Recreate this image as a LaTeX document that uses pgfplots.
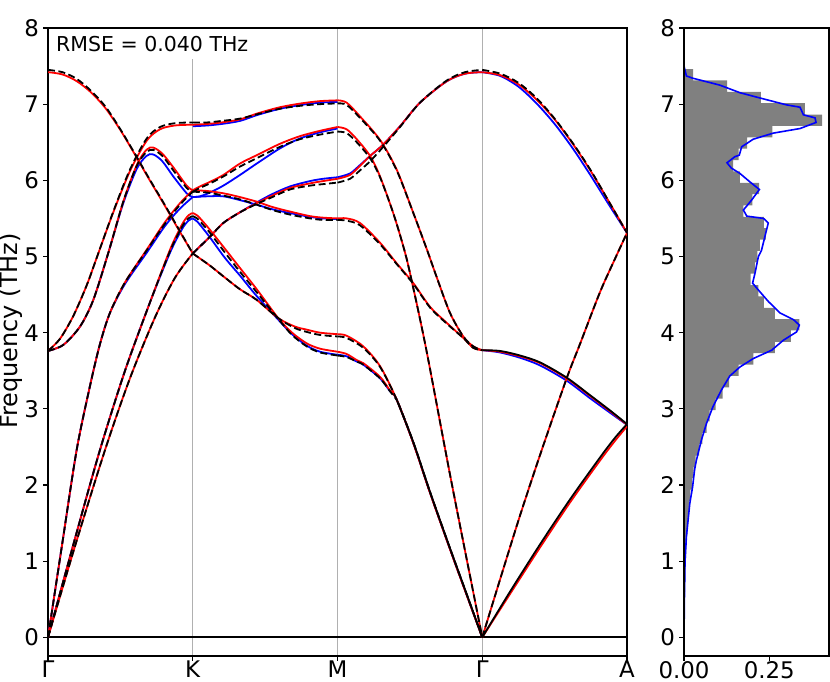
\documentclass[border=0pt]{standalone}
\usepackage{fontspec}
\setmainfont{DejaVu Sans}
\usepackage{pgfplots}
\pgfplotsset{compat=1.18}
\definecolor{histgray}{HTML}{808080}
\definecolor{gridgray}{HTML}{B0B0B0}
\pgfplotsset{
  rl/.style={red, line width=1.8bp, smooth, tension=0.5},
  bl/.style={blue, line width=1.8bp, smooth, tension=0.5},
  kl/.style={black, line width=1.8bp, dash pattern=on 7bp off 3.5bp, smooth, tension=0.5},
  ks/.style={black, line width=1.8bp, smooth, tension=0.5},
  common/.style={
    scale only axis, ymin=-0.245, ymax=8, ytick={0,1,...,8},
    axis line style={line width=1.1bp, black},
    tick style={line width=1.1bp, black},
    tick align=outside, major tick length=4.9bp, tick pos=left,
    tick label style={font=\fontsize{22.9bp}{27bp}\selectfont, inner sep=0pt},
    /pgf/number format/assume math mode=true,
    xticklabel shift=0.2bp, yticklabel shift=4bp,
  }
}
\begin{document}
\begin{tikzpicture}[x=1bp,y=1bp]
\path[use as bounding box] (0,0) rectangle (830,682);
\node[rotate=90, font=\fontsize{24bp}{28bp}\selectfont] at (11bp,351bp) {Frequency (THz)};
\begin{axis}[common, at={(48bp,26bp)}, anchor=south west, width=579bp, height=628bp,
  xmin=0, xmax=4, xtick={0,1,2,3,4}, xticklabels={Γ,K,M,Γ,A},
  xmajorgrids, grid style={draw=gridgray, line width=1.1bp}]
\addplot[black, line width=1.8bp] coordinates {(0,0) (4,0)};
% ---------- blue ----------
\addplot[bl] coordinates {(0,3.76)(0.106,3.84)(0.221,4.08)(0.313,4.43)(0.417,5.05)(0.520,5.70)(0.613,6.15)(0.680,6.32)(0.727,6.34)(0.790,6.25)(0.866,6.05)(0.958,5.83)(1,5.78)};
\addplot[bl] coordinates {(0,0)(0.1,1.25)(0.198,2.46)(0.290,3.30)(0.359,3.85)(0.428,4.26)(0.532,4.64)(0.682,5.05)(0.808,5.40)(0.912,5.63)(1,5.78)};
\addplot[bl] coordinates {(0,0)(0.187,1.30)(0.359,2.46)(0.532,3.50)(0.705,4.40)(0.843,5.05)(0.926,5.36)(0.97,5.47)(1,5.50)};
\addplot[bl] coordinates {(1,6.71)(1.1,6.72)(1.2,6.74)(1.326,6.78)(1.45,6.86)(1.603,6.94)(1.75,6.99)(1.88,7.02)(2,7.03)};
\addplot[bl] coordinates {(1,5.78)(1.05,5.79)(1.119,5.84)(1.211,5.93)(1.326,6.07)(1.442,6.22)(1.603,6.42)(1.741,6.55)(1.879,6.63)(2,6.68)};
\addplot[bl] coordinates {(1,5.78)(1.1,5.79)(1.211,5.79)(1.326,5.74)(1.442,5.68)(1.55,5.62)(1.672,5.57)(1.810,5.52)(1.9,5.50)(2,5.49)};
\addplot[bl] coordinates {(1,5.04)(1.119,5.26)(1.211,5.44)(1.326,5.58)(1.442,5.71)(1.55,5.82)(1.672,5.92)(1.81,5.99)(1.9,6.02)(2,6.04)};
\addplot[bl] coordinates {(1,5.50)(1.03,5.46)(1.07,5.37)(1.119,5.25)(1.223,4.98)(1.326,4.75)(1.442,4.48)(1.591,4.17)(1.686,3.98)(1.787,3.83)(1.879,3.75)(2,3.71)};
\addplot[bl] coordinates {(2,6.04)(2.086,6.09)(2.155,6.20)(2.225,6.32)(2.316,6.47)(2.432,6.71)(2.570,7.02)(2.754,7.30)(2.881,7.40)(3,7.42)};
\addplot[bl] coordinates {(2,3.71)(2.063,3.69)(2.133,3.62)(2.178,3.58)(2.294,3.40)(2.363,3.23)(2.409,3.12)(2.524,2.55)(2.639,1.90)(2.777,1.16)(2.888,0.58)(3,0)};
\addplot[bl] coordinates {(3,7.42)(3.125,7.37)(3.25,7.23)(3.375,7.01)(3.5,6.74)(3.625,6.42)(3.75,6.06)(3.875,5.68)(4,5.31)};
\addplot[bl] coordinates {(3,3.77)(3.123,3.74)(3.261,3.67)(3.399,3.57)(3.583,3.37)(3.744,3.14)(3.882,2.95)(4,2.79)};
% ---------- red ----------
% Gamma-K
\addplot[rl] coordinates {(0,7.42)(0.1,7.39)(0.2,7.30)(0.3,7.15)(0.4,6.94)(0.5,6.66)(0.6,6.34)(0.7,6.01)(0.8,5.69)(0.9,5.36)(1,5.04)};
\addplot[rl] coordinates {(0,3.76)(0.083,3.92)(0.175,4.22)(0.267,4.62)(0.336,4.98)(0.451,5.58)(0.566,6.12)(0.682,6.52)(0.774,6.67)(0.877,6.72)(1,6.73)};
\addplot[rl] coordinates {(0,3.76)(0.106,3.84)(0.221,4.08)(0.313,4.43)(0.417,5.05)(0.520,5.72)(0.613,6.20)(0.680,6.40)(0.727,6.43)(0.790,6.35)(0.866,6.17)(0.958,5.93)(1,5.87)};
\addplot[rl] coordinates {(0,0)(0.1,1.25)(0.198,2.46)(0.290,3.30)(0.359,3.85)(0.428,4.26)(0.532,4.66)(0.682,5.09)(0.808,5.45)(0.912,5.70)(1,5.87)};
\addplot[rl] coordinates {(0,0)(0.187,1.30)(0.359,2.46)(0.532,3.50)(0.705,4.40)(0.843,5.09)(0.926,5.42)(0.97,5.54)(1,5.57)};
\addplot[rl] coordinates {(0,0)(0.187,1.20)(0.394,2.46)(0.566,3.40)(0.739,4.20)(0.877,4.72)(1,5.04)};
% K-M
\addplot[rl] coordinates {(1,6.73)(1.1,6.74)(1.2,6.76)(1.326,6.80)(1.45,6.88)(1.603,6.96)(1.75,7.01)(1.88,7.04)(2,7.05)};
\addplot[rl] coordinates {(1,5.87)(1.05,5.92)(1.119,5.98)(1.211,6.07)(1.326,6.22)(1.442,6.33)(1.603,6.48)(1.741,6.58)(1.879,6.65)(2,6.70)};
\addplot[rl] coordinates {(1,5.87)(1.1,5.86)(1.211,5.83)(1.326,5.78)(1.442,5.72)(1.55,5.65)(1.672,5.59)(1.810,5.53)(1.9,5.51)(2,5.50)};
\addplot[rl] coordinates {(1,5.04)(1.119,5.26)(1.211,5.44)(1.326,5.58)(1.442,5.70)(1.55,5.80)(1.672,5.90)(1.81,5.96)(1.9,5.99)(2,6.02)};
\addplot[rl] coordinates {(1,5.04)(1.119,4.88)(1.211,4.74)(1.326,4.57)(1.442,4.43)(1.591,4.19)(1.706,4.08)(1.787,4.04)(1.879,4.00)(2,3.98)};
\addplot[rl] coordinates {(1,5.57)(1.03,5.54)(1.07,5.46)(1.119,5.35)(1.223,5.10)(1.326,4.85)(1.442,4.57)(1.591,4.19)(1.686,4.00)(1.787,3.86)(1.879,3.79)(2,3.75)};
% M-Gamma
\addplot[rl] coordinates {(2,7.05)(2.063,7.02)(2.155,6.84)(2.294,6.53)(2.409,6.14)(2.524,5.57)(2.616,5.10)(2.685,4.73)(2.777,4.26)(2.869,3.95)(2.938,3.82)(3,3.77)};
\addplot[rl] coordinates {(2,6.70)(2.063,6.67)(2.133,6.54)(2.225,6.32)(2.294,6.05)(2.385,5.57)(2.455,5.13)(2.501,4.78)(2.611,3.80)(2.784,2.07)(3,0)};
\addplot[rl] coordinates {(2,6.02)(2.086,6.07)(2.155,6.19)(2.225,6.32)(2.316,6.47)(2.432,6.71)(2.570,7.02)(2.754,7.30)(2.881,7.40)(3,7.42)};
\addplot[rl] coordinates {(2,5.50)(2.063,5.50)(2.155,5.44)(2.294,5.18)(2.409,4.91)(2.524,4.65)(2.639,4.34)(2.754,4.13)(2.869,3.93)(2.938,3.80)(3,3.77)};
\addplot[rl] coordinates {(2,3.98)(2.063,3.96)(2.178,3.82)(2.294,3.56)(2.409,3.12)(2.524,2.55)(2.639,1.90)(2.777,1.16)(2.888,0.58)(3,0)};
\addplot[rl] coordinates {(2,3.75)(2.063,3.72)(2.133,3.64)(2.178,3.60)(2.294,3.42)(2.363,3.24)(2.409,3.12)(2.524,2.55)(2.639,1.90)(2.777,1.16)(2.888,0.58)(3,0)};
% Gamma-A
\addplot[rl] coordinates {(3,0)(3.192,0.57)(3.399,1.18)(3.606,1.77)(3.813,2.32)(3.917,2.58)(4,2.77)};
\addplot[rl] coordinates {(3,0)(3.123,0.76)(3.261,1.60)(3.411,2.46)(3.583,3.40)(3.675,3.85)(3.813,4.53)(3.917,4.97)(4,5.31)};
\addplot[rl] coordinates {(3,3.77)(3.123,3.75)(3.261,3.69)(3.399,3.60)(3.583,3.40)(3.744,3.17)(3.882,2.97)(4,2.79)};
\addplot[rl] coordinates {(3,7.42)(3.125,7.38)(3.25,7.26)(3.375,7.06)(3.5,6.80)(3.625,6.48)(3.75,6.12)(3.875,5.72)(4,5.31)};
% ---------- black dashed ----------
\addplot[kl] coordinates {(0,7.45)(0.1,7.42)(0.2,7.33)(0.3,7.17)(0.4,6.96)(0.5,6.67)(0.6,6.35)(0.7,6.02)(0.8,5.70)(0.9,5.37)(1,5.04)};
\addplot[kl] coordinates {(0,3.76)(0.083,3.92)(0.175,4.22)(0.267,4.62)(0.336,4.98)(0.451,5.59)(0.566,6.14)(0.682,6.55)(0.774,6.70)(0.877,6.75)(1,6.76)};
\addplot[kl] coordinates {(0,3.76)(0.106,3.84)(0.221,4.08)(0.313,4.43)(0.417,5.05)(0.520,5.72)(0.613,6.19)(0.680,6.37)(0.727,6.40)(0.790,6.32)(0.866,6.13)(0.958,5.90)(1,5.85)};
\addplot[kl] coordinates {(0,0)(0.1,1.25)(0.198,2.46)(0.290,3.30)(0.359,3.85)(0.428,4.26)(0.532,4.66)(0.682,5.08)(0.808,5.43)(0.912,5.68)(1,5.85)};
\addplot[kl] coordinates {(0,0)(0.187,1.30)(0.359,2.46)(0.532,3.50)(0.705,4.40)(0.843,5.07)(0.926,5.39)(0.97,5.50)(1,5.53)};
\addplot[kl] coordinates {(0,0)(0.187,1.20)(0.394,2.46)(0.566,3.40)(0.739,4.20)(0.877,4.72)(1,5.04)};
\addplot[kl] coordinates {(1,6.76)(1.1,6.76)(1.2,6.78)(1.326,6.81)(1.45,6.87)(1.603,6.94)(1.75,6.98)(1.88,7.00)(2,7.01)};
\addplot[kl] coordinates {(1,5.85)(1.05,5.90)(1.119,5.96)(1.211,6.05)(1.326,6.18)(1.442,6.29)(1.603,6.44)(1.741,6.54)(1.879,6.60)(2,6.64)};
\addplot[kl] coordinates {(1,5.85)(1.1,5.84)(1.211,5.80)(1.326,5.75)(1.442,5.68)(1.55,5.61)(1.672,5.55)(1.81,5.50)(1.9,5.48)(2,5.48)};
\addplot[kl] coordinates {(1,5.04)(1.119,5.26)(1.211,5.44)(1.326,5.58)(1.442,5.69)(1.55,5.78)(1.672,5.88)(1.81,5.93)(1.9,5.95)(2,5.97)};
\addplot[kl] coordinates {(1,5.04)(1.119,4.88)(1.211,4.74)(1.326,4.57)(1.442,4.43)(1.591,4.19)(1.706,4.06)(1.787,4.01)(1.879,3.97)(2,3.95)};
\addplot[kl] coordinates {(1,5.53)(1.03,5.50)(1.07,5.42)(1.119,5.31)(1.223,5.05)(1.326,4.80)(1.442,4.53)(1.591,4.18)(1.686,3.97)(1.787,3.82)(1.879,3.74)(2,3.70)};
\addplot[kl] coordinates {(2,7.01)(2.063,6.99)(2.155,6.82)(2.294,6.52)(2.409,6.13)(2.524,5.57)(2.616,5.10)(2.685,4.73)(2.777,4.26)(2.869,3.95)(2.938,3.82)(3,3.77)};
\addplot[kl] coordinates {(2,6.64)(2.063,6.62)(2.133,6.50)(2.225,6.29)(2.294,6.04)(2.385,5.57)(2.455,5.13)(2.501,4.78)(2.611,3.80)(2.784,2.07)(3,0)};
\addplot[kl] coordinates {(2,5.97)(2.086,6.02)(2.155,6.13)(2.225,6.25)(2.316,6.44)(2.432,6.70)(2.570,7.02)(2.754,7.31)(2.881,7.42)(3,7.45)};
\addplot[kl] coordinates {(2,5.48)(2.063,5.47)(2.155,5.41)(2.294,5.16)(2.409,4.90)(2.524,4.64)(2.639,4.33)(2.754,4.12)(2.869,3.93)(2.938,3.80)(3,3.77)};
\addplot[kl] coordinates {(2,3.95)(2.063,3.93)(2.178,3.80)(2.294,3.55)(2.409,3.12)(2.524,2.56)(2.639,1.91)(2.777,1.17)(2.888,0.59)(3,0)};
\addplot[kl] coordinates {(2,3.70)(2.063,3.68)(2.133,3.62)(2.178,3.58)(2.294,3.40)(2.363,3.23)(2.409,3.12)};
\addplot[ks] coordinates {(2.409,3.12)(2.524,2.56)(2.639,1.91)(2.777,1.17)(2.888,0.59)(3,0)};
\addplot[ks] coordinates {(3,0)(3.192,0.60)(3.399,1.22)(3.606,1.81)(3.813,2.36)(3.917,2.62)(4,2.80)};
\addplot[kl] coordinates {(3,0)(3.123,0.76)(3.261,1.60)(3.411,2.46)(3.583,3.40)(3.675,3.85)(3.813,4.53)(3.917,4.97)(4,5.31)};
\addplot[ks] coordinates {(3,3.77)(3.123,3.76)(3.261,3.70)(3.399,3.61)(3.583,3.41)(3.744,3.18)(3.882,2.98)(4,2.80)};
\addplot[kl] coordinates {(3,7.45)(3.125,7.40)(3.25,7.28)(3.375,7.08)(3.5,6.81)(3.625,6.49)(3.75,6.13)(3.875,5.72)(4,5.31)};
\node[anchor=north west, fill=white, inner xsep=7bp, inner ysep=7bp, font=\fontsize{20.5bp}{24bp}\selectfont] at ([xshift=1bp,yshift=-1bp]rel axis cs:0,1) {RMSE = 0.040 THz};
\end{axis}
\begin{axis}[common, at={(684bp,26bp)}, anchor=south west, width=145bp, height=628bp,
  xmin=0, xmax=0.425, xtick={0,0.25}, xticklabels={0.00,0.25}, axis on top]
\addplot[xbar, bar width=0.1492, fill=histgray, draw=none] coordinates {
(0.0003,0.0746)(0.0008,0.2238)(0.0015,0.3730)(0.002,0.5222)(0.003,0.6714)(0.004,0.8206)(0.005,0.9698)(0.006,1.1190)(0.008,1.2682)(0.010,1.4174)
(0.012,1.5666)(0.015,1.7158)(0.019,1.8650)(0.024,2.0142)(0.028,2.1634)(0.034,2.3126)(0.044,2.4618)(0.054,2.6110)(0.066,2.7602)(0.075,2.9094)
(0.093,3.0586)(0.113,3.2078)(0.132,3.3570)(0.160,3.5062)(0.203,3.6554)(0.266,3.8046)(0.313,3.9538)(0.338,4.1030)(0.266,4.2522)(0.234,4.4014)
(0.218,4.5506)(0.195,4.6998)(0.208,4.8490)(0.215,4.9982)(0.222,5.1474)(0.240,5.2966)(0.234,5.4458)(0.174,5.5950)(0.200,5.7442)(0.220,5.8934)
(0.164,6.0426)(0.144,6.1918)(0.160,6.3410)(0.185,6.4902)(0.259,6.6394)(0.405,6.7886)(0.354,6.9378)(0.225,7.0870)(0.126,7.2362)(0.027,7.3854)};
\addplot[blue, line width=1.6bp] coordinates {
(0,-0.25)(0,0)(0.001,0.45)(0.003,1.0)(0.007,1.32)(0.017,1.76)(0.025,1.97)(0.031,2.20)(0.036,2.32)(0.051,2.59)(0.066,2.81)(0.085,3.03)(0.110,3.25)(0.134,3.43)(0.164,3.55)(0.203,3.66)(0.257,3.77)(0.291,3.90)(0.330,4.01)(0.338,4.10)(0.321,4.17)(0.281,4.26)(0.247,4.41)(0.218,4.56)(0.201,4.65)(0.208,4.78)(0.218,5.0)(0.227,5.08)(0.237,5.26)(0.247,5.44)(0.233,5.50)(0.184,5.53)(0.174,5.61)(0.198,5.74)(0.221,5.88)(0.193,5.98)(0.164,6.09)(0.139,6.16)(0.126,6.23)(0.149,6.31)(0.162,6.33)(0.169,6.44)(0.203,6.54)(0.262,6.62)(0.340,6.68)(0.387,6.76)(0.384,6.82)(0.350,6.86)(0.340,6.96)(0.301,6.99)(0.232,7.07)(0.164,7.15)(0.105,7.25)(0.026,7.34)(0.007,7.37)(0,7.50)(0,8)};
\end{axis}
\end{tikzpicture}
\end{document}
